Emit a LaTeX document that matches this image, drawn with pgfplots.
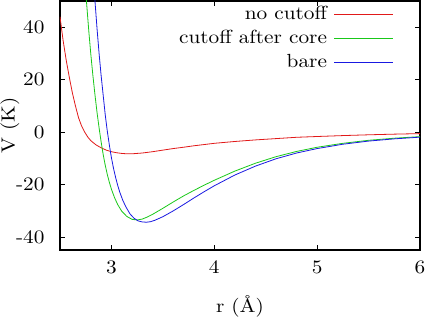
\documentclass[border=0pt]{standalone}
\usepackage{fontspec}
\setmainfont{lmroman10-regular.otf}[FakeStretch=1.12]
\usepackage{pgfplots}
\pgfplotsset{compat=1.18}
\definecolor{cred}{RGB}{225,25,25}
\definecolor{cgreen}{RGB}{25,200,25}
\definecolor{cblue}{RGB}{25,25,225}
\begin{document}
\fontsize{19}{23}\selectfont
\begin{tikzpicture}[font=\fontsize{19}{23}\selectfont]
\begin{axis}[
  scale only axis, width=360pt, height=249pt,
  xmin=2.5, xmax=6, ymin=-45, ymax=50,
  xtick={3,4,5,6}, ytick={-40,-20,0,20,40},
  tick align=inside, major tick length=5pt, minor tick num=0,
  xtick pos=both, ytick pos=both,
  axis line style={line width=1.2pt},
  every tick/.style={black, line width=0.6pt},
  /pgf/number format/assume math mode=true,
  xlabel={r (Å)}, ylabel={V (K)},
  x label style={at={(axis description cs:0.5,-0.2249)}, anchor=center},
  y label style={at={(axis description cs:-0.1389,0.5)}, anchor=center},
  yticklabel style={xshift=-9pt},
  xticklabel style={yshift=-4pt},
  legend style={draw=none, fill=none, at={(rel axis cs:1,1)}, anchor=north east,
    xshift=-23pt, yshift=-1pt, row sep=4pt,
    /tikz/every odd column/.append style={column sep=5pt}},
  legend cell align=right, legend plot pos=right,
  legend image code/.code={\draw[#1] (0pt,0pt) -- (59pt,0pt);},
  every axis plot/.append style={line width=0.8pt},
]
\addplot[cred] coordinates {
(2.50,44) (2.53,35) (2.56,27.5) (2.59,21) (2.62,15) (2.65,10) (2.68,5.5)
(2.71,2.3) (2.74,0) (2.77,-1.9) (2.80,-3.3) (2.85,-4.9) (2.90,-6.0)
(2.95,-6.9) (3.00,-7.5) (3.05,-7.9) (3.10,-8.15) (3.15,-8.3) (3.20,-8.3)
(3.30,-8.0) (3.40,-7.5) (3.50,-6.9) (3.60,-6.3) (3.70,-5.8) (3.80,-5.25)
(4.00,-4.3) (4.20,-3.6) (4.40,-3.0) (4.60,-2.5) (4.80,-2.0) (5.00,-1.7)
(5.25,-1.35) (5.50,-1.05) (5.75,-0.8) (6.00,-0.6)};
\addlegendentry{no cutoff}
\addplot[cgreen] coordinates {
(2.74,58) (2.757,50) (2.78,38.5) (2.80,29.5) (2.82,21.5) (2.84,14.2)
(2.86,7.5) (2.88,1.6) (2.90,-3.8) (2.92,-8.6) (2.94,-12.7) (2.96,-16.2)
(2.98,-19.2) (3.00,-21.8) (3.03,-25.0) (3.06,-27.6) (3.10,-30.2)
(3.15,-32.2) (3.20,-33.3) (3.25,-33.55) (3.30,-33.2) (3.35,-32.4)
(3.40,-31.4) (3.50,-29.1) (3.60,-26.7) (3.70,-24.4) (3.80,-22.3)
(3.90,-20.3) (4.00,-18.4) (4.20,-14.9) (4.40,-11.9) (4.60,-9.4)
(4.80,-7.4) (5.00,-5.8) (5.25,-4.3) (5.50,-3.15) (5.75,-2.35) (6.00,-1.75)};
\addlegendentry{cutoff after core}
\addplot[cblue] coordinates {
(2.82,62) (2.84,50) (2.86,39.5) (2.88,30) (2.90,21.5) (2.92,14) (2.94,6.5)
(2.96,0.3) (2.98,-5.0) (3.00,-9.8) (3.02,-13.8) (3.04,-17.2) (3.06,-20.2)
(3.08,-22.8) (3.11,-26.0) (3.14,-28.5) (3.18,-31.2) (3.22,-32.9)
(3.26,-33.9) (3.30,-34.3) (3.34,-34.4) (3.38,-34.2) (3.42,-33.7)
(3.50,-32.3) (3.60,-30.1) (3.70,-27.7) (3.80,-25.2) (3.90,-22.8)
(4.00,-20.5) (4.20,-16.4) (4.40,-13.0) (4.60,-10.2) (4.80,-8.0)
(5.00,-6.3) (5.25,-4.65) (5.50,-3.45) (5.75,-2.6) (6.00,-1.95)};
\addlegendentry{bare}
\end{axis}
\pgfresetboundingbox
\path ([xshift=-60pt,yshift=-69pt]current axis.south west) rectangle ([xshift=8pt,yshift=1pt]current axis.north east);
\end{tikzpicture}
\end{document}
